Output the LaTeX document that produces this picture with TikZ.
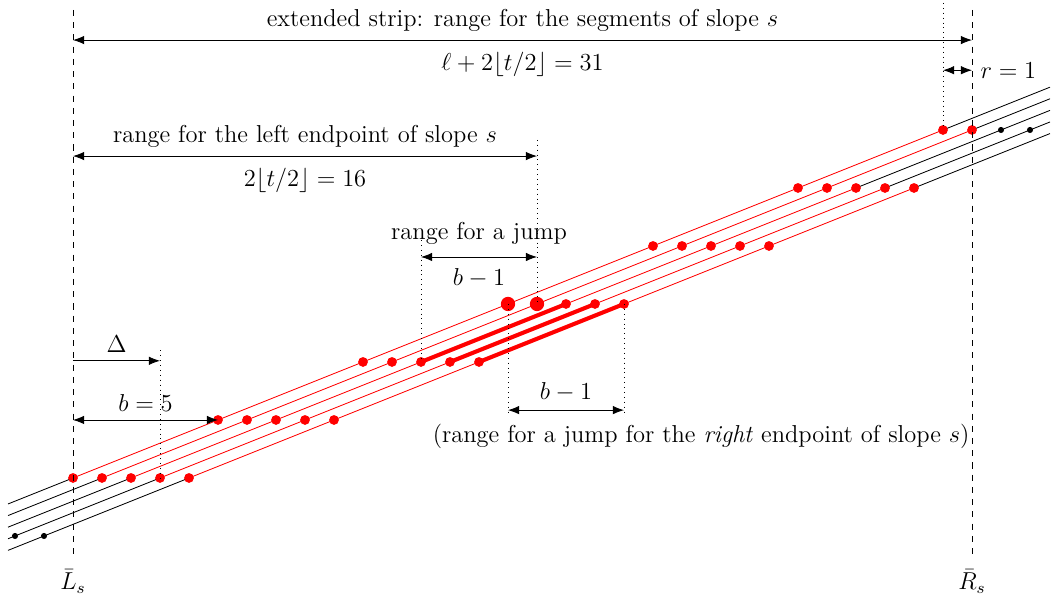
\documentclass[tikz,border=0pt,12pt]{standalone}
\usepackage{amsmath, amssymb}
\usepackage{tikz}
\usetikzlibrary{calc, positioning, arrows.meta}

\begin{document}
\begin{tikzpicture}[>={Latex[length=5.5pt,width=4.2pt]}, x=0.5cm, y=1cm]
    \useasboundingbox (-2.517,-2.086) rectangle (33.793,8.241);
    \tikzset{
        reddot/.style={red},
        guide/.style={dotted},
        lowlab/.style={below, yshift=-1.5pt},
    }

    % Các đường thẳng song song
    \foreach \k/\m in {0/30,1/31,2/27,3/28,4/29} {
        \coordinate (a\k) at (-2.24, {(-2.24-\k)/5});
        \coordinate (e\k) at (33.69, {(33.69-\k)/5});
        \coordinate (s\k) at (\k,0);
        \coordinate (t\k) at (\m,{(\m-\k)/5});
        \draw (a\k) -- (s\k);
        \draw[red] (s\k) -- (t\k);
        \draw (t\k) -- (e\k);
    }
    \foreach \k in {2,3,4} {
        \coordinate (u\k) at ({10+\k},2);
        \coordinate (v\k) at ({15+\k},3);
        \draw[red, line width=2pt] (u\k) -- (v\k);
    }

    % Các điểm
    \foreach \j in {0,...,5} {
        \foreach \k in {0,...,4} {
            \fill[reddot] ({\k+5*\j},\j) circle (2.4pt);
        }
    }
    \foreach \x in {30,31} {
        \fill[reddot] (\x,6) circle (2.4pt);
    }
    \foreach \x/\y in {32/6,33/6,-2/-1,-1/-1} {
        \fill (\x,\y) circle (1.5pt);
    }
    \fill[reddot] (15,3) circle (3.5pt);
    \fill[reddot] (16,3) circle (3.5pt);

    % Biên của dải
    \coordinate (Ls-top) at (0,8.07);
    \coordinate (Ls-bot) at (0,-1.33);
    \coordinate (Rs-top) at (31,8.07);
    \coordinate (Rs-bot) at (31,-1.33);
    \draw[dashed] (Ls-top) -- (Ls-bot);
    \draw[dashed] (Rs-top) -- (Rs-bot);
    \node (Lbar) at (0,-1.78) {$\bar{L}_s$};
    \node (Rbar) at (31,-1.78) {$\bar{R}_s$};

    % Dải mở rộng
    \coordinate (strip-l) at (0,7.55);
    \coordinate (strip-r) at (31,7.55);
    \draw[<->] (strip-l) -- (strip-r)
        node[midway, above] (strip) {extended strip: range for the segments of slope $s$}
        node[midway, lowlab] (stripval) {$\ell + 2\lfloor t/2 \rfloor = 31$};

    \coordinate (r-top) at (30,8.19);
    \coordinate (r-l) at (30,7.03);
    \coordinate (r-r) at (31,7.03);
    \draw[guide] (r-top) -- (t0);
    \draw[<->] (r-l) -- (r-r) node[right] (rval) {$r = 1$};

    % Đầu mút trái
    \coordinate (left-l) at (0,5.55);
    \coordinate (left-r) at (16,5.55);
    \coordinate (left-top) at (16,5.83);
    \draw[guide] (left-top) -- (16,3);
    \draw[<->] (left-l) -- (left-r)
        node[midway, above] (leftlab) {range for the left endpoint of slope $s$}
        node[midway, lowlab] (leftval) {$2\lfloor t/2 \rfloor = 16$};

    % Bước nhảy
    \coordinate (jump-l) at (12,3.81);
    \coordinate (jump-r) at (16,3.81);
    \coordinate (jump-top) at (12,4.1);
    \draw[guide] (jump-top) -- (u2);
    \draw[<->] (jump-l) -- (jump-r)
        node[midway, above, yshift=2pt] (jumplab) {range for a jump}
        node[midway, lowlab] (jumpval) {$b - 1$};

    % Delta và b
    \coordinate (delta-l) at (0,2.02);
    \coordinate (delta-r) at (3,2.02);
    \coordinate (delta-top) at (3,2.2);
    \draw[guide] (delta-top) -- (s3);
    \draw[->] (delta-l) -- (delta-r) node[midway, above] (deltalab) {$\Delta$};
    \coordinate (b-l) at (0,1);
    \coordinate (b-r) at (5,1);
    \draw[<->] (b-l) -- (b-r) node[midway, above] (blab) {$b = 5$};

    % Bước nhảy cho đầu mút phải
    \coordinate (rj-l) at (15,1.17);
    \coordinate (rj-r) at (19,1.17);
    \draw[guide] (15,3) -- (15,1.1);
    \draw[guide] (v4) -- (19,1.1);
    \draw[<->] (rj-l) -- (rj-r) node[midway, above] (rjval) {$b - 1$};
    \node (rjlab) at (21.66,0.71) {(range for a jump for the \emph{right} endpoint of slope $s$)};
\end{tikzpicture}
\end{document}
